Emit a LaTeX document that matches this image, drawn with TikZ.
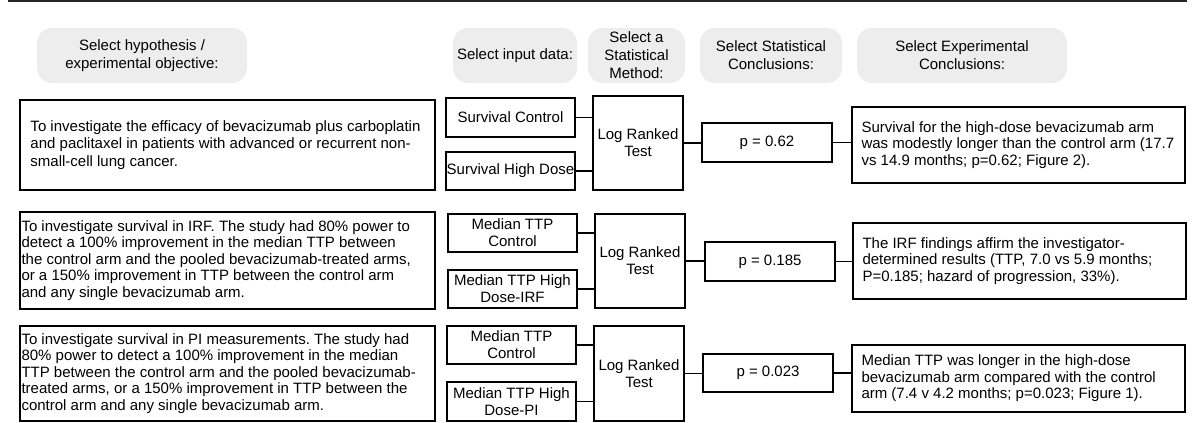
\documentclass[tikz,border=0pt]{standalone}
\usepackage{fontspec}
\setmainfont{Liberation Sans}
\frenchspacing
\begin{document}
\begin{tikzpicture}[x=1pt,y=-1pt,
  pill/.style={fill=black!7, rounded corners=15pt, inner sep=0pt, align=center,
    minimum height=55pt, font=\fontsize{15}{18}\selectfont},
  frame/.style={draw=black, line width=1.4pt, inner sep=0pt},
  inbox/.style={frame, align=center, font=\fontsize{15}{17}\selectfont},
  body/.style={anchor=west, inner sep=0pt, align=left, font=\fontsize{15}{16.5}\selectfont},
  link/.style={line width=1.4pt}]
\useasboundingbox (0,0) rectangle (1200,423);

% rule across the top
\coordinate (ruleL) at (8,1);
\coordinate (ruleR) at (1187,1);
\draw[line width=1.8pt, black!85] (ruleL) -- (ruleR);

% column headings
\node[pill, minimum width=210pt] (head1) at (142,55.5) {Select hypothesis /\\experimental objective:};
\node[pill, minimum width=124pt] (head2) at (515,55.5) {Select input data:};
\node[pill, minimum width=97pt]  (head3) at (636.5,55.5) {Select a\\Statistical\\Method:};
\node[pill, minimum width=142pt] (head4) at (771,55.5) {Select Statistical\\Conclusions:};
\node[pill, minimum width=210pt] (head5) at (962,55.5) {Select Experimental\\Conclusions:};

% ---- first study ----
\node[frame, minimum width=415pt, minimum height=90pt] (hypA) at (227.5,145) {};
\node[body, font=\fontsize{15}{17.5}\selectfont] (hypAtxt) at ([xshift=11pt]hypA.west)
  {To investigate the efficacy of bevacizumab plus carboplatin\\
   and paclitaxel in patients with advanced or recurrent non-\\
   small-cell lung cancer.};
\node[inbox, minimum width=129pt, minimum height=39pt] (inA1) at (510.5,117.5) {Survival Control};
\node[inbox, minimum width=129pt, minimum height=38pt] (inA2) at (510.5,171) {Survival High Dose};
\node[inbox, minimum width=90pt, minimum height=94pt] (testA) at (638,143) {Log Ranked\\Test};
\node[inbox, minimum width=130pt, minimum height=39pt] (pA) at (767,142.5) {p = 0.62};
\node[frame, minimum width=333pt, minimum height=76pt] (conA) at (1018.5,145) {};
\node[body] (conAtxt) at ([xshift=10pt]conA.west)
  {Survival for the high-dose bevacizumab arm\\
   was modestly longer than the control arm (17.7\\
   vs 14.9 months; p=0.62; Figure 2).};

% ---- second study ----
\node[frame, minimum width=415pt, minimum height=97pt] (hypB) at (227.5,260.5) {};
\node[body] (hypBtxt) at ([xshift=2pt]hypB.west)
  {To investigate survival in IRF. The study had 80\% power to\\
   detect a 100\% improvement in the median TTP between\\
   the control arm and the pooled bevacizumab-treated arms,\\
   or a 150\% improvement in TTP between the control arm\\
   and any single bevacizumab arm.};
\node[inbox, minimum width=129pt, minimum height=38pt] (inB1) at (512.5,233) {Median TTP\\Control};
\node[inbox, minimum width=129pt, minimum height=38pt] (inB2) at (512.5,289) {Median TTP High\\Dose-IRF};
\node[inbox, minimum width=90pt, minimum height=94pt] (testB) at (640,261) {Log Ranked\\Test};
\node[inbox, minimum width=130pt, minimum height=39pt] (pB) at (770,261.5) {p = 0.185};
\node[frame, minimum width=333pt, minimum height=76pt] (conB) at (1019.5,261) {};
\node[body] (conBtxt) at ([xshift=10pt]conB.west)
  {The IRF findings affirm the investigator-\\
   determined results (TTP, 7.0 vs 5.9 months;\\
   P=0.185; hazard of progression, 33\%).};

% ---- third study ----
\node[frame, minimum width=415pt, minimum height=95pt] (hypC) at (227.5,373.5) {};
\node[body] (hypCtxt) at ([xshift=2pt]hypC.west)
  {To investigate survival in PI measurements. The study had\\
   80\% power to detect a 100\% improvement in the median\\
   TTP between the control arm and the pooled bevacizumab-\\
   treated arms, or a 150\% improvement in TTP between the\\
   control arm and any single bevacizumab arm.};
\node[inbox, minimum width=129pt, minimum height=38pt] (inC1) at (511.5,345) {Median TTP\\Control};
\node[inbox, minimum width=129pt, minimum height=39pt] (inC2) at (511.5,401.5) {Median TTP High\\Dose-PI};
\node[inbox, minimum width=90pt, minimum height=95pt] (testC) at (639,373.5) {Log Ranked\\Test};
\node[inbox, minimum width=130pt, minimum height=38pt] (pC) at (768,373) {p = 0.023};
\node[frame, minimum width=333pt, minimum height=67pt] (conC) at (1018.5,378.5) {};
\node[body] (conCtxt) at ([xshift=10pt]conC.west)
  {Median TTP was longer in the high-dose\\
   bevacizumab arm compared with the control\\
   arm (7.4 v 4.2 months; p=0.023; Figure 1).};

% connectors
\foreach \r in {A,B,C}{
  \draw[link] (in\r1.east) -- (in\r1.east -| test\r.west);
  \draw[link] (in\r2.east) -- (in\r2.east -| test\r.west);
  \draw[link] (test\r.east) -- (test\r.east -| p\r.west);
  \draw[link] (p\r.east) -- (p\r.east -| con\r.west);
}
\end{tikzpicture}
\end{document}
